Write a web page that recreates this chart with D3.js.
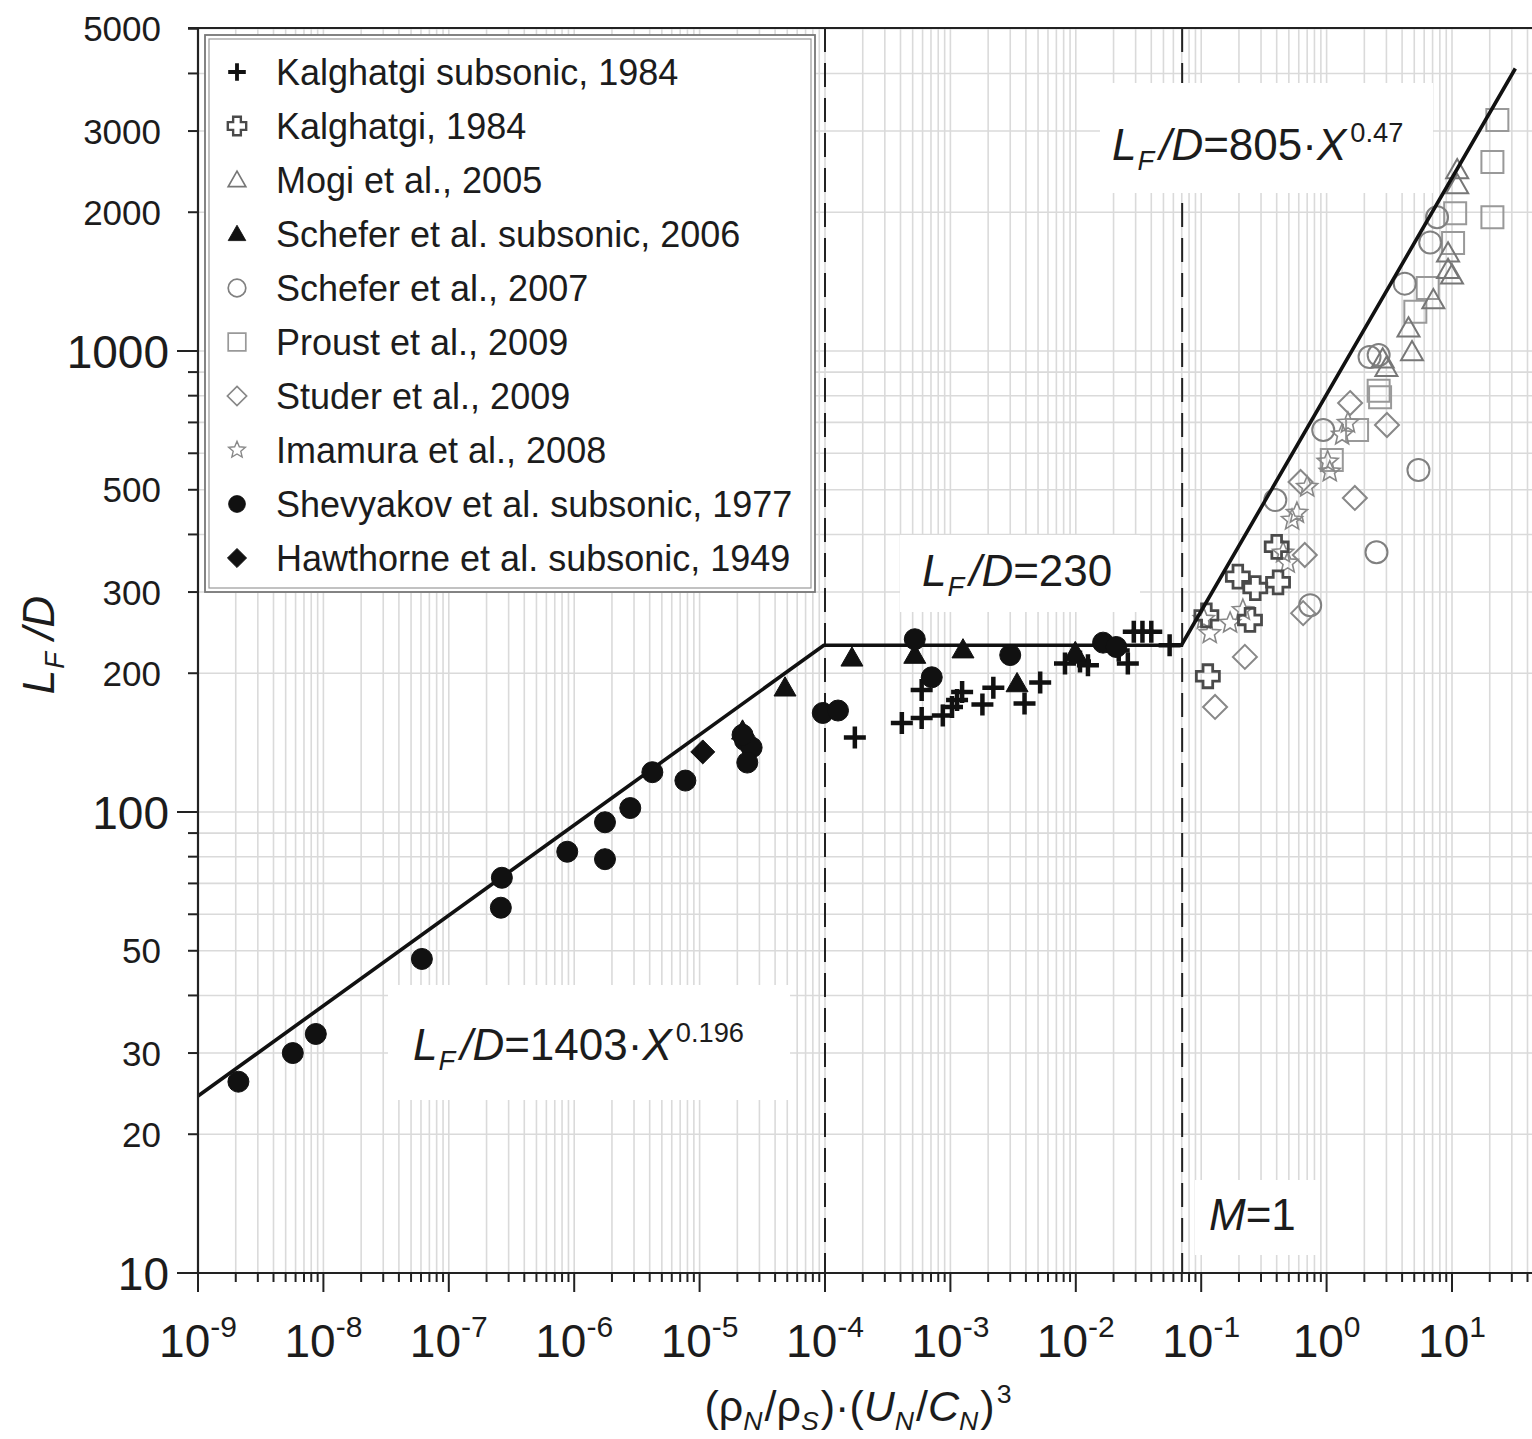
<!DOCTYPE html>
<html><head><meta charset="utf-8">
<script src="https://cdn.jsdelivr.net/npm/d3@7"></script>
<style>
body{margin:0;background:#fff}
svg{display:block}
text{font-family:"Liberation Sans",Arial,Helvetica,sans-serif;fill:#1c1c1c}
</style>
</head><body>
<svg id="c" width="1532" height="1439"></svg>
<script>
// ---------------- data ----------------
const seriesNames = [
  "Kalghatgi subsonic, 1984","Kalghatgi, 1984","Mogi et al., 2005",
  "Schefer et al. subsonic, 2006","Schefer et al., 2007","Proust et al., 2009",
  "Studer et al., 2009","Imamura et al., 2008","Shevyakov et al. subsonic, 1977",
  "Hawthorne et al. subsonic, 1949"];

const kalghatgiSubsonic = [[1.73e-4,145],[4.1e-4,156],[5.9e-4,160],[5.9e-4,184],[8.7e-4,162],[1.03e-3,169],[1.13e-3,175],[1.24e-3,182],[1.8e-3,171],[2.2e-3,186],[3.9e-3,172],[5.2e-3,191],[8.2e-3,210],[1.08e-2,212],[1.25e-2,208],[2.2e-2,224],[2.6e-2,210],[2.9e-2,246],[3.4e-2,246],[4.0e-2,246],[5.6e-2,230]];
const kalghatgi1984 = [[0.11,267],[0.113,197],[0.196,324],[0.245,261],[0.27,306],[0.40,376],[0.41,315]];
const mogi2005 = [[2.8,960],[3.0,920],[4.5,1120],[4.8,995],[7.1,1290],[9.3,1630],[9.3,1500],[10,1460],[11,2290],[11,2470]];
const schefer2006Subsonic = [[2.2e-5,150],[4.8e-5,186],[1.64e-4,216],[5.2e-4,219],[1.26e-3,225],[3.4e-3,190],[9.9e-3,222]];
const schefer2007 = [[0.39,475],[0.74,281],[0.94,674],[2.2,970],[2.6,980],[2.5,366],[4.2,1400],[5.4,552],[6.7,1720],[7.6,1950]];
const proust2009 = [[1.1,580],[1.75,674],[2.6,820],[2.67,794],[5.1,1216],[6.4,1370],[10.2,1715],[10.6,1990],[21,1950],[21,2570],[23,3170]];
const studer2009 = [[0.129,169],[0.223,217],[0.62,520],[0.65,270],[0.67,361],[1.54,771],[1.68,480],[3.03,691]];
const imamura2008 = [[0.105,262],[0.117,244],[0.17,257],[0.215,274],[0.45,365],[0.49,347],[0.53,430],[0.58,445],[0.70,507],[1.02,575],[1.06,547],[1.33,658],[1.48,698]];
const shevyakov1977 = [[2.1e-9,26],[5.7e-9,30],[8.7e-9,33],[6.1e-8,48],[2.6e-7,62],[2.65e-7,72],[8.8e-7,82],[1.76e-6,79],[1.76e-6,95],[2.8e-6,102],[4.2e-6,122],[7.7e-6,117],[2.3e-5,143],[2.6e-5,138],[2.4e-5,128],[2.2e-5,147],[9.6e-5,164],[1.27e-4,166],[5.2e-4,237],[7.1e-4,196],[3.0e-3,219],[1.65e-2,233],[2.1e-2,228]];
const hawthorne1949 = [[1.06e-5,135]];

// correlation line breakpoints (X, LF/D)
const fitLine = [[1e-9,24.2],[9.8e-5,230],[0.0695,230],[32,4100]];
// vertical dashed boundaries
const boundaries = [1e-4, 0.0705];

const xDecades = [-9,-8,-7,-6,-5,-4,-3,-2,-1,0,1];
const yTickLabels = [10,20,30,50,100,200,300,500,1000,2000,3000,5000];
const yBigLabels = [10,100,1000];

// ---------------- layout ----------------
const svg = d3.select("#c");
const L = 198, T = 28, B = 1273, R = 1532;
const x = d3.scaleLog().domain([1e-9, Math.pow(10,(R-L)/125.4-9)]).range([L, R]);
const y = d3.scaleLog().domain([10, 5000]).range([B, B - Math.log10(500)*461]);

const xAll = [];
for (let e=-9; e<=1; e++) for (let k=1;k<=9;k++){ const v=k*Math.pow(10,e); if(v<=x.domain()[1]) xAll.push(v);}
const yAll = [];
for (let e=1; e<=3; e++) for (let k=1;k<=9;k++){ const v=k*Math.pow(10,e); if(v<=5000) yAll.push(v);}
const isDecade = v => Math.abs(Math.log10(v)-Math.round(Math.log10(v)))<1e-9;

// grid
const grid = svg.append("g").attr("stroke","#dadada").attr("stroke-width",1.6);
grid.selectAll("line.gx").data(xAll).join("line")
  .attr("x1",d=>x(d)).attr("x2",d=>x(d)).attr("y1",T).attr("y2",B);
grid.selectAll("line.gy").data(yAll).join("line")
  .attr("x1",L).attr("x2",R).attr("y1",d=>y(d)).attr("y2",d=>y(d));

// dashed lines
svg.append("g").selectAll("line").data(boundaries).join("line")
  .attr("x1",d=>x(d)).attr("x2",d=>x(d)).attr("y1",T).attr("y2",B)
  .attr("stroke","#222").attr("stroke-width",2).attr("stroke-dasharray","24,11");

// annotation backgrounds (hide grid and dashed line)
const boxes = [[1100,83,333,110],[900,535,240,77],[388,985,402,115],[1195,1180,125,75]];
svg.append("g").selectAll("rect").data(boxes).join("rect")
  .attr("x",d=>d[0]).attr("y",d=>d[1]).attr("width",d=>d[2]).attr("height",d=>d[3]).attr("fill","#fff");

// ---------------- markers ----------------
function shapePath(type, s){
  switch(type){
    case "plus": return `M${-s},0H${s}M0,${-s}V${s}`;
    case "cross": { const a=s, w=s*0.42; return `M${-w},${-a}H${w}V${-w}H${a}V${w}H${w}V${a}H${-w}V${w}H${-a}V${-w}H${-w}Z`; }
    case "tri": { const h=s; return `M0,${-h}L${h},${h*0.75}L${-h},${h*0.75}Z`; }
    case "circle": return `M${s},0A${s},${s},0,1,1,${-s},0A${s},${s},0,1,1,${s},0Z`;
    case "square": return `M${-s},${-s}H${s}V${s}H${-s}Z`;
    case "diamond": return `M0,${-s}L${s},0L0,${s}L${-s},0Z`;
    case "star": { let p=""; for(let i=0;i<10;i++){const r=i%2?s*0.45:s; const a=-Math.PI/2+i*Math.PI/5; p+=(i?"L":"M")+(r*Math.cos(a)).toFixed(2)+","+(r*Math.sin(a)).toFixed(2);} return p+"Z"; }
  }
}
const styles = [
  {data:kalghatgiSubsonic, type:"plus", s:11, fill:"none", stroke:"#111", sw:4.5},
  {data:kalghatgi1984, type:"cross", s:11.5, fill:"none", stroke:"#4a4a4a", sw:2.8},
  {data:mogi2005, type:"tri", s:11, fill:"none", stroke:"#777", sw:2},
  {data:schefer2006Subsonic, type:"tri", s:11, fill:"#111", stroke:"#111", sw:1},
  {data:schefer2007, type:"circle", s:11, fill:"none", stroke:"#808080", sw:2},
  {data:proust2009, type:"square", s:11, fill:"none", stroke:"#999", sw:2},
  {data:studer2009, type:"diamond", s:12, fill:"none", stroke:"#888", sw:2},
  {data:imamura2008, type:"star", s:11, fill:"none", stroke:"#888", sw:1.6},
  {data:shevyakov1977, type:"circle", s:10.5, fill:"#111", stroke:"#111", sw:1},
  {data:hawthorne1949, type:"diamond", s:12, fill:"#111", stroke:"#111", sw:1}
];
const openOrder = [5,4,6,7,2,1];
const filledOrder = [0,3,8,9];
function drawSeries(g, i){
  const st = styles[i];
  g.append("g").selectAll("path").data(st.data).join("path")
    .attr("transform",d=>`translate(${x(d[0])},${y(d[1])})`)
    .attr("d",shapePath(st.type, st.s))
    .attr("fill",st.fill).attr("stroke",st.stroke).attr("stroke-width",st.sw);
}
const mk = svg.append("g");
openOrder.forEach(i=>drawSeries(mk,i));

// fit line
svg.append("path").datum(fitLine)
  .attr("d", d3.line().x(d=>x(d[0])).y(d=>y(d[1])))
  .attr("fill","none").attr("stroke","#111").attr("stroke-width",3.6).attr("stroke-linejoin","round");

const mk2 = svg.append("g");
filledOrder.forEach(i=>drawSeries(mk2,i));

// ---------------- axes ----------------
const ax = svg.append("g").attr("stroke","#222");
ax.append("line").attr("x1",L).attr("x2",L).attr("y1",T-1).attr("y2",B+1).attr("stroke-width",2.2);
ax.append("line").attr("x1",L-10).attr("x2",R).attr("y1",B).attr("y2",B).attr("stroke-width",2.2);
ax.append("line").attr("x1",L-10).attr("x2",R).attr("y1",T).attr("y2",T).attr("stroke-width",2);
ax.selectAll("line.yt").data(yAll).join("line")
  .attr("x1",d=>L-(isDecade(d)?21:10)).attr("x2",L).attr("y1",d=>y(d)).attr("y2",d=>y(d)).attr("stroke-width",2);
ax.selectAll("line.xt").data(xAll).join("line")
  .attr("x1",d=>x(d)).attr("x2",d=>x(d)).attr("y1",B).attr("y2",d=>B+(isDecade(d)?19:9)).attr("stroke-width",2);

// y tick labels
svg.append("g").selectAll("text").data(yTickLabels).join("text")
  .attr("x",d=>yBigLabels.includes(d)?169:161)
  .attr("y",d=>y(d)).attr("dy","0.36em").attr("text-anchor","end")
  .attr("font-size",d=>yBigLabels.includes(d)?46:35)
  .text(d=>d);

// x tick labels
const xl = svg.append("g").selectAll("text").data(xDecades).join("text")
  .attr("x",d=>x(Math.pow(10,d))).attr("y",1357).attr("text-anchor","middle").attr("font-size",46);
xl.append("tspan").text("10");
xl.append("tspan").text(d=>String(d)).attr("font-size",30).attr("dy",-20);

// rich text helper
function rich(sel, parts, size){
  let cur=0;
  parts.forEach(p=>{
    const target = p.sub? size*0.22 : p.sup? -size*0.42 : 0;
    const ts = sel.append("tspan").text(p.t).attr("dy", target-cur);
    if(p.dx) ts.attr("dx", p.dx);
    cur = target;
    if(p.sub||p.sup) ts.attr("font-size", size*0.62);
    if(p.i) ts.attr("font-style","italic");
  });
}
const LF = [{t:"L",i:true},{t:"F",i:true,sub:true,dx:1},{t:"/",i:true,dx:5},{t:"D",i:true}];

// annotations
rich(svg.append("text").attr("x",1112).attr("y",160).attr("font-size",44),
  [...LF,{t:"=805·"},{t:"X",i:true},{t:"0.47",sup:true,dx:4}],44);
rich(svg.append("text").attr("x",922).attr("y",586).attr("font-size",44),
  [...LF,{t:"=230"}],44);
rich(svg.append("text").attr("x",413).attr("y",1060).attr("font-size",44),
  [...LF,{t:"=1403·"},{t:"X",i:true},{t:"0.196",sup:true,dx:4}],44);
rich(svg.append("text").attr("x",1209).attr("y",1230).attr("font-size",44),
  [{t:"M",i:true},{t:"=1"}],44);

// axis titles
rich(svg.append("text").attr("x",858).attr("y",1421).attr("text-anchor","middle").attr("font-size",43),
  [{t:"(ρ"},{t:"N",i:true,sub:true},{t:"/ρ",dx:2},{t:"S",i:true,sub:true},{t:")·(",dx:2},{t:"U",i:true},{t:"N",i:true,sub:true},{t:"/",dx:2},{t:"C",i:true},{t:"N",i:true,sub:true},{t:")",dx:2},{t:"3",sup:true,dx:2}],43);
rich(svg.append("text").attr("transform","translate(54,645) rotate(-90)").attr("text-anchor","middle").attr("font-size",44),
  [{t:"L",i:true},{t:"F",i:true,sub:true,dx:1},{t:" /",i:true},{t:"D",i:true}],44);

// ---------------- legend ----------------
const lg = svg.append("g");
lg.append("rect").attr("x",205).attr("y",35).attr("width",610).attr("height",557)
  .attr("fill","#fff").attr("stroke","#777").attr("stroke-width",1.8);
lg.append("rect").attr("x",209).attr("y",39).attr("width",602).attr("height",549)
  .attr("fill","none").attr("stroke","#999").attr("stroke-width",1.2);
const rows = lg.selectAll("g.row").data(seriesNames).join("g")
  .attr("transform",(d,i)=>`translate(0,${72+54*i})`);
rows.append("path")
  .attr("transform","translate(237,0)")
  .attr("d",(d,i)=>shapePath(styles[i].type, styles[i].s*0.8))
  .attr("fill",(d,i)=>styles[i].fill).attr("stroke",(d,i)=>styles[i].stroke)
  .attr("stroke-width",(d,i)=>styles[i].sw*0.85);
rows.append("text").attr("x",276).attr("dy","0.36em").attr("font-size",36).text(d=>d);
</script>
</body></html>
